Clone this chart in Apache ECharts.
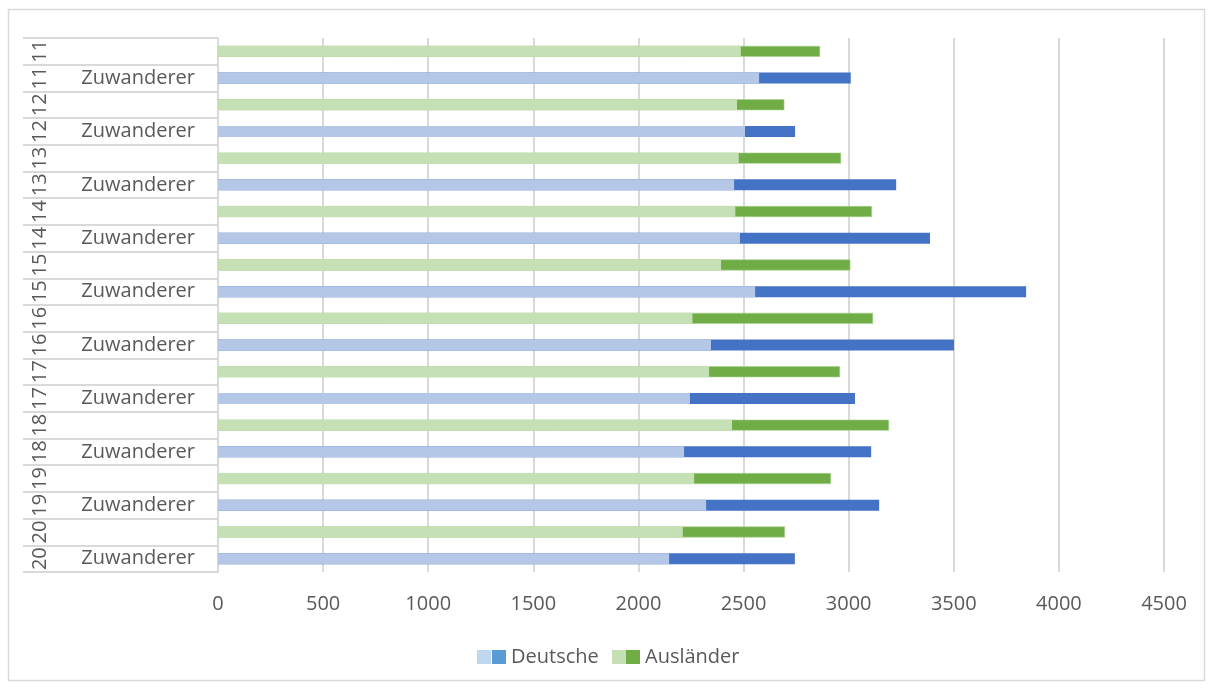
<!DOCTYPE html>
<html>
<head>
<meta charset="utf-8">
<script src="https://cdn.jsdelivr.net/npm/echarts@6/dist/echarts.min.js"></script>
<style>
  html, body { margin: 0; padding: 0; background: #ffffff; }
  #chart { width: 1214px; height: 690px; }
</style>
</head>
<body>
<div id="chart"></div>
<script>
// Jahre der Auswertung
const years = ['2011', '2012', '2013', '2014', '2015', '2016', '2017', '2018', '2019', '2020'];

// Ausländer: heller Teil bis base, dunkler Teil bis total
const auslaenderBase  = [2487, 2469, 2477, 2461, 2393, 2257, 2336, 2445, 2265, 2211];
const auslaenderTotal = [2864, 2694, 2964, 3111, 3008, 3116, 2959, 3192, 2916, 2697];

// Deutsche (Zeile "Zuwanderer"): heller Teil bis base, dunkler Teil bis total
const deutscheBase  = [2574, 2507, 2455, 2483, 2555, 2345, 2245, 2217, 2322, 2146];
const deutscheTotal = [3010, 2745, 3226, 3387, 3844, 3501, 3030, 3107, 3145, 2744];

const rowLabel = 'Zuwanderer';
const legendNames = ['Deutsche', 'Ausländer'];
const xMin = 0, xMax = 4500, xStep = 500;

const colors = {
  ausLight: '#c5e0b4', ausDark: '#70ad47',
  deLight: '#b4c7e7', deDark: '#4472c4',
  legDeLight: '#bdd7ee', legDeDark: '#5b9bd5'
};

// two rows per year: Ausländer first, then Deutsche
const rows = [];
const totals = [];
const bases = [];
years.forEach((y, i) => {
  rows.push(y + '-A');
  totals.push({ value: auslaenderTotal[i], itemStyle: { color: colors.ausDark, borderColor: '#a9d18e', borderWidth: 0.6 } });
  bases.push({ value: auslaenderBase[i], itemStyle: { color: colors.ausLight } });
  rows.push(y + '-D');
  totals.push({ value: deutscheTotal[i], itemStyle: { color: colors.deDark } });
  bases.push({ value: deutscheBase[i], itemStyle: { color: colors.deLight } });
});

const FONT = '"Open Sans"';
const TEXT = '#595959';
const GRID = '#d9d9d9';

const chart = echarts.init(document.getElementById('chart'), null, { renderer: 'canvas' });

chart.setOption({
  animation: false,
  backgroundColor: '#ffffff',
  textStyle: { fontFamily: FONT },
  grid: { left: 218, right: 50, top: 38, bottom: 118, containLabel: false },
  xAxis: {
    type: 'value',
    min: xMin, max: xMax, interval: xStep,
    axisLine: { show: false },
    axisTick: { show: false },
    axisLabel: { color: TEXT, fontFamily: FONT, fontSize: 20, margin: 22, formatter: v => String(v) },
    splitLine: { show: true, lineStyle: { color: GRID, width: 2 } }
  },
  yAxis: [
    {
      type: 'category',
      data: rows,
      inverse: true,
      position: 'left',
      axisLine: { show: true, lineStyle: { color: GRID, width: 2 } },
      axisTick: { show: true, alignWithLabel: false, interval: 0, length: 195, lineStyle: { color: GRID, width: 2 } },
      axisLabel: {
        color: TEXT, fontFamily: FONT, fontSize: 20, margin: 23, interval: 0,
        formatter: v => v.endsWith('-D') ? rowLabel : ''
      }
    },
    {
      type: 'category',
      data: rows,
      inverse: true,
      position: 'left',
      axisLine: { show: false },
      axisTick: { show: false },
      axisLabel: {
        color: TEXT, fontFamily: FONT, fontSize: 20, margin: 168, rotate: 90, interval: 0,
        formatter: v => v.slice(2, 4)
      }
    }
  ],
  series: [
    { type: 'bar', name: 'gesamt', yAxisIndex: 0, barWidth: 11, barGap: '-100%', data: totals },
    { type: 'bar', name: 'anteil', yAxisIndex: 0, barWidth: 11, barGap: '-100%', data: bases }
  ],
  graphic: [
    // chart frame
    { type: 'rect', shape: { x: 8.5, y: 9.5, width: 1196, height: 671 }, style: { fill: 'none', stroke: GRID, lineWidth: 1.5 }, silent: true },
    // legend
    { type: 'rect', shape: { x: 477, y: 650, width: 14, height: 14 }, style: { fill: colors.legDeLight } },
    { type: 'rect', shape: { x: 492, y: 650, width: 14, height: 14 }, style: { fill: colors.legDeDark } },
    { type: 'text', x: 511, y: 657, style: { text: legendNames[0], fill: TEXT, font: '20px ' + FONT, textVerticalAlign: 'middle' } },
    { type: 'rect', shape: { x: 612, y: 650, width: 14, height: 14 }, style: { fill: colors.ausLight } },
    { type: 'rect', shape: { x: 626, y: 650, width: 14, height: 14 }, style: { fill: colors.ausDark } },
    { type: 'text', x: 645, y: 657, style: { text: legendNames[1], fill: TEXT, font: '20px ' + FONT, textVerticalAlign: 'middle' } }
  ]
});
</script>
</body>
</html>
